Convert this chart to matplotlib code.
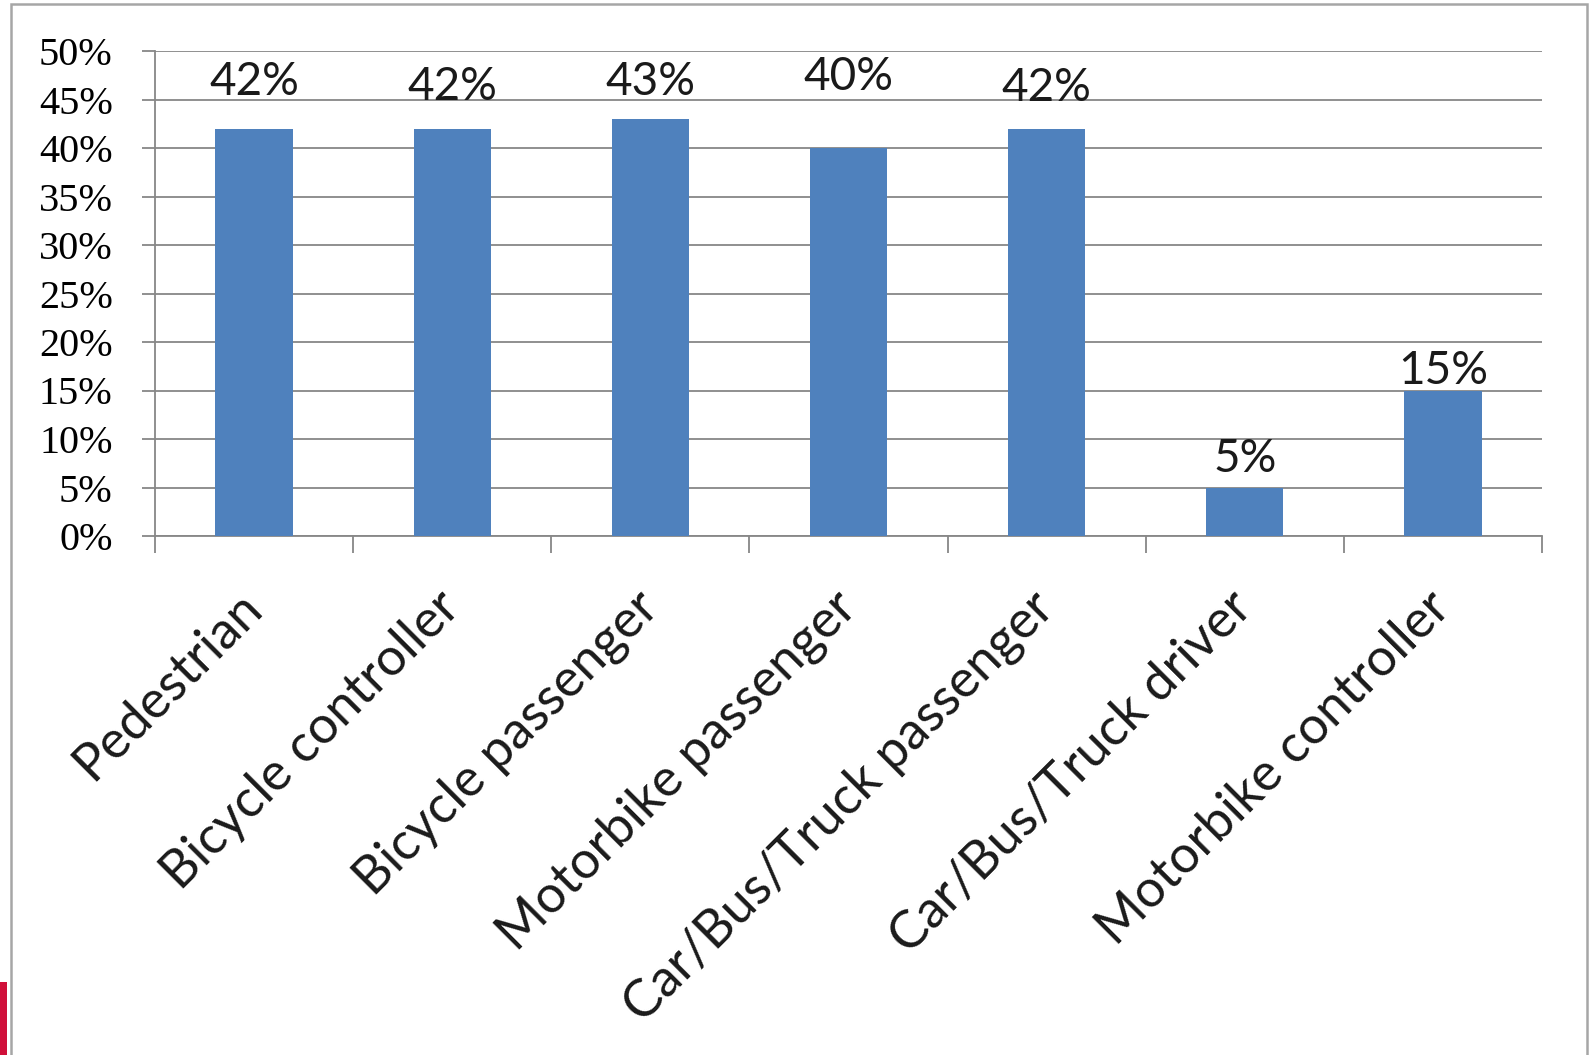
import matplotlib
matplotlib.use("Agg")
import matplotlib.pyplot as plt
from matplotlib.patches import Rectangle
from matplotlib.ticker import FixedLocator
from matplotlib.transforms import ScaledTranslation
import numpy as np

categories = ["Pedestrian", "Bicycle controller", "Bicycle passenger",
              "Motorbike passenger", "Car/Bus/Truck passenger",
              "Car/Bus/Truck driver", "Motorbike controller"]
values = [42, 42, 43, 40, 42, 5, 15]
value_labels = ["42%", "42%", "43%", "40%", "42%", "5%", "15%"]
label_pos = [45.5, 44.9, 45.5, 46.0, 44.8, 6.6, 15.7]
yticks = [0, 5, 10, 15, 20, 25, 30, 35, 40, 45, 50]
ytick_labels = ["0%", "5%", "10%", "15%", "20%", "25%", "30%", "35%", "40%", "45%", "50%"]

W, H = 1591, 1055
fig = plt.figure(figsize=(W / 100, H / 100), dpi=100)
fig.patch.set_facecolor("white")

ax = fig.add_axes([155 / W, 1 - 536 / H, (1542 - 155) / W, (536 - 51) / H])
x = np.arange(len(categories))
grid_color = "#878787"

ax.set_xlim(-0.5, len(categories) - 0.5)
ax.set_ylim(0, 50)
ax.yaxis.set_major_locator(FixedLocator(yticks))
ax.set_yticklabels(ytick_labels, fontfamily="Liberation Serif", fontsize=29)
ax.grid(axis="y", color=grid_color, linewidth=1.3, zorder=0)
ax.set_axisbelow(True)

ax.bar(x, values, width=0.39, color="#4F81BD", zorder=3)

for xi, lab, yp in zip(x, value_labels, label_pos):
    ax.text(xi, yp, lab, ha="center", va="baseline", fontfamily="Lato",
            fontsize=33, color="#1a1a1a", zorder=4)

# x ticks at category boundaries, labels at centers
ax.xaxis.set_major_locator(FixedLocator(np.arange(len(categories) + 1) - 0.5))
ax.xaxis.set_minor_locator(FixedLocator(x))
ax.set_xticklabels([])
ax.set_xticklabels(categories, minor=True, rotation=45, ha="right", va="center",
                   rotation_mode="anchor", fontfamily="Lato", fontsize=37.5,
                   color="#1a1a1a")
offset = ScaledTranslation(15 / 100, 0, fig.dpi_scale_trans)
for lbl in ax.get_xticklabels(minor=True):
    lbl.set_transform(lbl.get_transform() + offset)
ax.tick_params(axis="x", which="major", direction="out", length=12, width=1.3,
               color=grid_color)
ax.tick_params(axis="x", which="minor", length=0, pad=46)
ax.tick_params(axis="y", direction="out", length=9.5, width=1.3,
               color=grid_color, pad=21)

for s in ["top", "right"]:
    ax.spines[s].set_visible(False)
for s in ["left", "bottom"]:
    ax.spines[s].set_color(grid_color)
    ax.spines[s].set_linewidth(1.3)

# outer chart frame
fig.patches.append(Rectangle((11 / W, -0.05), (1587 - 11) / W, 1.05 - 4 / H,
                             transform=fig.transFigure, fill=False,
                             edgecolor="#a6a6a6", linewidth=1.8))
# small red decoration at bottom-left
fig.patches.append(Rectangle((0, 0), 7 / W, 73 / H, transform=fig.transFigure,
                             facecolor="#d0103a", edgecolor="none"))

fig.savefig("out.png", dpi=100, facecolor="white")
